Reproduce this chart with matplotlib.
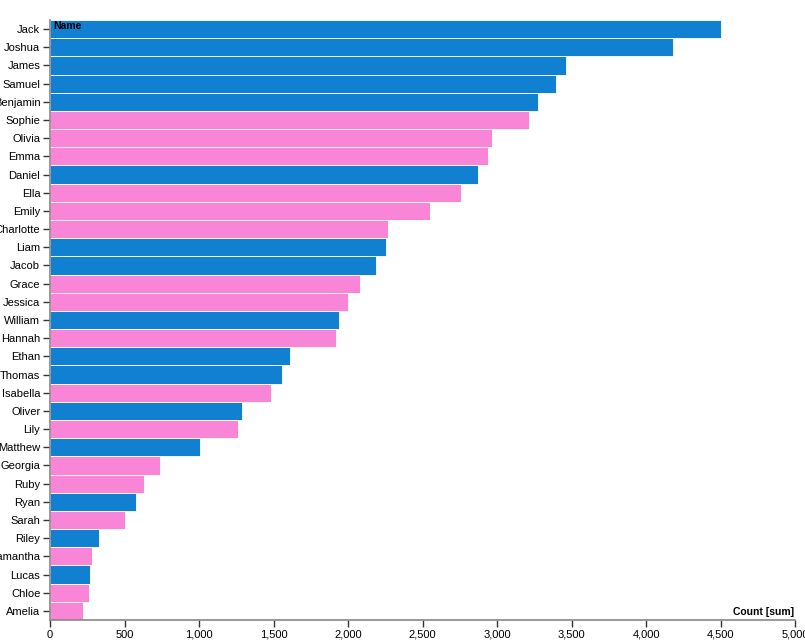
import matplotlib.pyplot as plt

names = ['Jack', 'Joshua', 'James', 'Samuel', 'Benjamin', 'Sophie', 'Olivia', 'Emma',
         'Daniel', 'Ella', 'Emily', 'Charlotte', 'Liam', 'Jacob', 'Grace', 'Jessica',
         'William', 'Hannah', 'Ethan', 'Thomas', 'Isabella', 'Oliver', 'Lily', 'Matthew',
         'Georgia', 'Ruby', 'Ryan', 'Sarah', 'Riley', 'Samantha', 'Lucas', 'Chloe', 'Amelia']
counts = [4505, 4181, 3463, 3396, 3275, 3215, 2966, 2940,
          2872, 2758, 2550, 2268, 2255, 2188, 2081, 2000,
          1940, 1919, 1611, 1557, 1483, 1289, 1262, 1007,
          738, 631, 577, 503, 329, 280, 270, 262, 222]
genders = ['M', 'M', 'M', 'M', 'M', 'F', 'F', 'F',
           'M', 'F', 'F', 'F', 'M', 'M', 'F', 'F',
           'M', 'F', 'M', 'M', 'F', 'M', 'F', 'M',
           'F', 'F', 'M', 'F', 'M', 'F', 'M', 'F', 'F']

colours = {'M': '#1180d1', 'F': '#f885d6'}

plt.rcParams['font.family'] = ['Liberation Sans', 'DejaVu Sans']

fig = plt.figure(figsize=(8.05, 6.4), dpi=100)
ax = fig.add_axes([50 / 805, 20 / 640, 745 / 805, 600 / 640])

ypos = list(range(len(names)))
ax.barh(ypos, counts, height=1.0, color=[colours[g] for g in genders],
        edgecolor='white', linewidth=0.6)

ax.set_xlim(0, 5000)
ax.set_ylim(len(names) - 0.5, -0.5)
ax.set_yticks(ypos)
ax.set_yticklabels(names, fontsize=8)
ax.set_xticks(range(0, 5001, 500))
ax.set_xticklabels([f'{v:,}' for v in range(0, 5001, 500)], fontsize=8)

for side in ['top', 'right']:
    ax.spines[side].set_visible(False)
for side in ['left', 'bottom']:
    ax.spines[side].set_color('#888888')
    ax.spines[side].set_linewidth(1.2)
ax.tick_params(axis='both', length=5, width=1, color='#333333', pad=2)

ax.text(0.005, 0.998, 'Name', transform=ax.transAxes, fontsize=7.5,
        fontweight='bold', va='top', ha='left')
ax.text(0.999, 0.005, 'Count [sum]', transform=ax.transAxes, fontsize=7.5,
        fontweight='bold', va='bottom', ha='right')

fig.savefig('out.png', dpi=100)
